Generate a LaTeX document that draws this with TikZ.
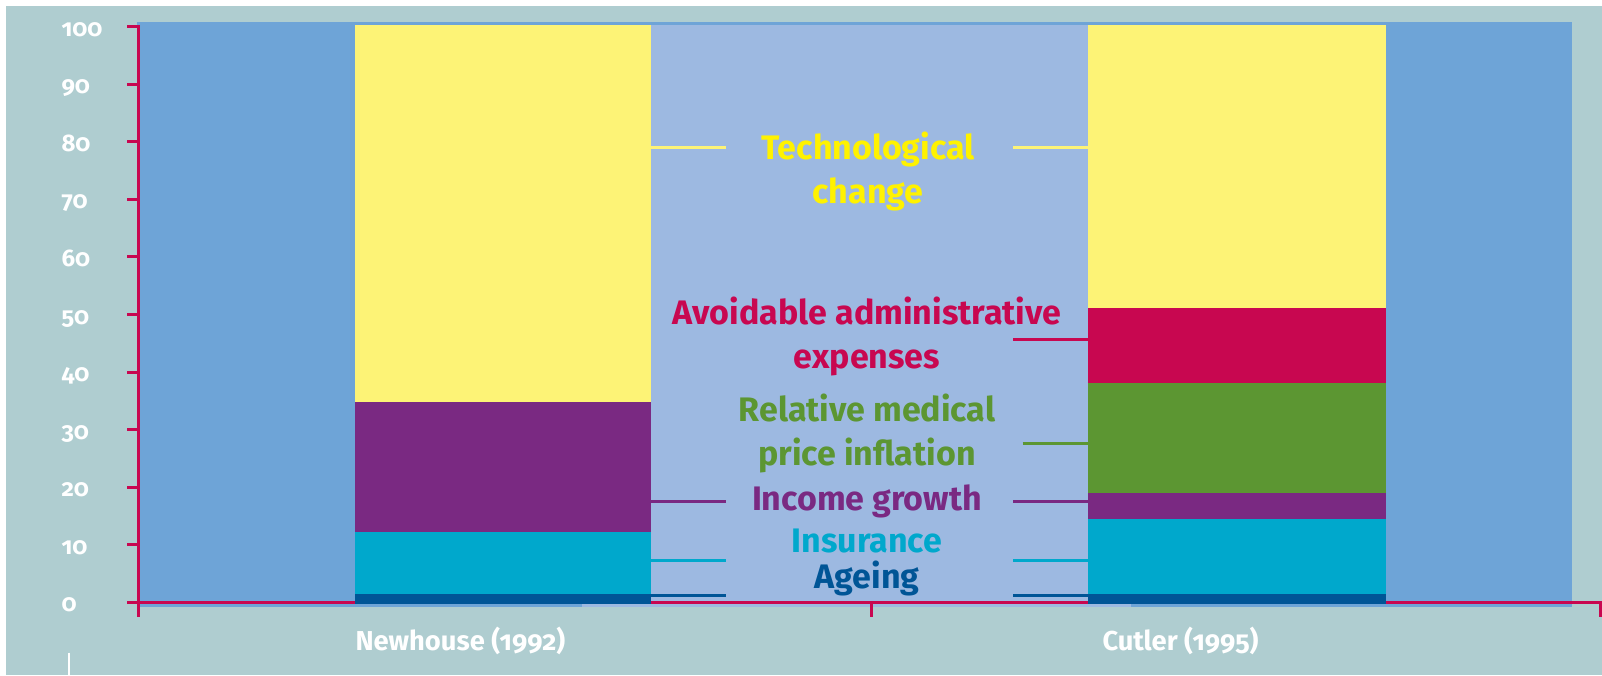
\documentclass[tikz,border=0pt]{standalone}
\usepackage{fontspec}
\setmainfont{Fira Sans}[RawFeature={+onum}]

\definecolor{bgteal}{RGB}{175,205,208}
\definecolor{plotblue}{RGB}{110,164,215}
\definecolor{midblue}{RGB}{157,185,225}
\definecolor{techyellow}{RGB}{253,243,118}
\definecolor{techtext}{RGB}{255,242,0}
\definecolor{adminred}{RGB}{200,7,80}
\definecolor{pricegreen}{RGB}{92,150,50}
\definecolor{incpurple}{RGB}{122,41,130}
\definecolor{insurcyan}{RGB}{0,168,204}
\definecolor{ageblue}{RGB}{0,85,150}

\tikzset{every picture/.style={line width=0.75pt},
  axisline/.style={draw=adminred,line width=2.25pt},
  leader/.style={line width=2.25pt},
  ticklbl/.style={anchor=base west,inner sep=0pt,text=white,font=\fontsize{18}{20}\selectfont\bfseries},
  catlbl/.style={anchor=base west,inner sep=0pt,text=white,font=\fontsize{20.5}{22}\selectfont\bfseries},
  factor/.style={anchor=base,align=center,inner sep=0pt,font=\fontsize{25.5}{33}\selectfont\bfseries}}

\begin{document}
\begin{tikzpicture}[x=0.75pt,y=0.75pt,yscale=-1,xscale=1]
	\useasboundingbox (0,0) rectangle (1602,675);
	
	%Shape: Rectangle [background]
	\fill[white] (0,0) rectangle (1602,675);
	\fill[bgteal] (6,6) rectangle (1602,675);
	%Shape: Rectangle [plot area]
	\fill[plotblue] (137,22) rectangle (1572,607);
	\fill[midblue] (651,25) rectangle (1088,602);
	\fill[midblue] (582,602) rectangle (1131,607);
	
	%Straight Lines [axes]
	\draw[axisline] (138.5,25) -- (138.5,616.7);
	\draw[axisline] (137,602.3) -- (1602,602.3);
	\draw[axisline] (871.5,602.3) -- (871.5,616.7);
	\draw[axisline] (1600.5,602.3) -- (1600.5,616.7);
	%Straight Lines [ticks]
	\draw[axisline] (127,602.3) -- (138.5,602.3);
	\draw[axisline] (127,544.7) -- (138.5,544.7);
	\draw[axisline] (127,487.2) -- (138.5,487.2);
	\draw[axisline] (127,429.6) -- (138.5,429.6);
	\draw[axisline] (127,372.1) -- (138.5,372.1);
	\draw[axisline] (127,314.5) -- (138.5,314.5);
	\draw[axisline] (127,256.9) -- (138.5,256.9);
	\draw[axisline] (127,199.4) -- (138.5,199.4);
	\draw[axisline] (127,141.8) -- (138.5,141.8);
	\draw[axisline] (127,84.3) -- (138.5,84.3);
	\draw[axisline] (127,26.7) -- (138.5,26.7);
	%Straight Lines [small white mark]
	\draw[white,line width=1.5pt] (69,652.7) -- (69,675);
	
	%Shape: Rectangle [Newhouse bar]
	\fill[techyellow] (355,25) rectangle (651,402);
	\fill[incpurple] (355,402) rectangle (651,531.7);
	\fill[insurcyan] (355,531.7) rectangle (651,594);
	\fill[ageblue] (355,594) rectangle (651,603.7);
	%Shape: Rectangle [Cutler bar]
	\fill[techyellow] (1088,25) rectangle (1386,308);
	\fill[adminred] (1088,308) rectangle (1386,383.3);
	\fill[pricegreen] (1088,383.3) rectangle (1386,492.7);
	\fill[incpurple] (1088,492.7) rectangle (1386,519);
	\fill[insurcyan] (1088,519) rectangle (1386,594);
	\fill[ageblue] (1088,594) rectangle (1386,603.7);
	
	%Straight Lines [leaders]
	\draw[leader,techyellow] (651,147.3) -- (726,147.3);
	\draw[leader,techyellow] (1013,147.3) -- (1088,147.3);
	\draw[leader,adminred] (1013,339) -- (1088,339);
	\draw[leader,pricegreen] (1022.7,443) -- (1088,443);
	\draw[leader,incpurple] (651,501) -- (726,501);
	\draw[leader,incpurple] (1013,501) -- (1088,501);
	\draw[leader,insurcyan] (651,560) -- (726,560);
	\draw[leader,insurcyan] (1013,560) -- (1088,560);
	\draw[leader,ageblue] (651,595.5) -- (726,595.5);
	\draw[leader,ageblue] (1013,595.5) -- (1088,595.5);
	
	% Text Node
	\draw (868,203) node [factor,text=techtext] (tech) {Technological\\change};
	% Text Node
	\draw (867,368) node [factor,text=adminred] (admin) {Avoidable administrative\\expenses};
	% Text Node
	\draw (867,465) node [factor,text=pricegreen] (price) {Relative medical\\price inflation};
	% Text Node
	\draw (867,510) node [factor,text=incpurple] (income) {Income growth};
	% Text Node
	\draw (867,552) node [factor,text=insurcyan] (insur) {Insurance};
	% Text Node
	\draw (867,588) node [factor,text=ageblue] (age) {Ageing};
	
	% Text Node
	\draw (61,611.8) node [ticklbl] (t0) {0};
	% Text Node
	\draw (61,554.2) node [ticklbl] (t10) {10};
	% Text Node
	\draw (61,496.7) node [ticklbl] (t20) {20};
	% Text Node
	\draw (61,439.1) node [ticklbl] (t30) {30};
	% Text Node
	\draw (61,381.6) node [ticklbl] (t40) {40};
	% Text Node
	\draw (61,324) node [ticklbl] (t50) {50};
	% Text Node
	\draw (61,266.4) node [ticklbl] (t60) {60};
	% Text Node
	\draw (61,208.9) node [ticklbl] (t70) {70};
	% Text Node
	\draw (61,151.3) node [ticklbl] (t80) {80};
	% Text Node
	\draw (61,93.8) node [ticklbl] (t90) {90};
	% Text Node
	\draw (61,36.2) node [ticklbl] (t100) {100};
	
	% Text Node
	\draw (355,650) node [catlbl] (newhouse) {Newhouse (1992)};
	% Text Node
	\draw (1102,650) node [catlbl] (cutler) {Cutler (1995)};
	
\end{tikzpicture}
\end{document}
